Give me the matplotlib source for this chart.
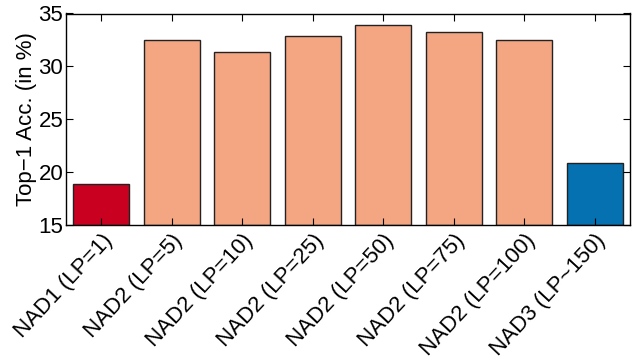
import matplotlib
matplotlib.use("Agg")
import matplotlib.pyplot as plt

categories = ["NAD1 (LP=1)", "NAD2 (LP=5)", "NAD2 (LP=10)", "NAD2 (LP=25)",
              "NAD2 (LP=50)", "NAD2 (LP=75)", "NAD2 (LP=100)", "NAD3 (LP~150)"]
values = [18.85, 32.45, 31.33, 32.9, 33.95, 33.22, 32.45, 20.9]
colors = ["#CA0020", "#F4A582", "#F4A582", "#F4A582", "#F4A582", "#F4A582", "#F4A582", "#0571B0"]

plt.rcParams['font.family'] = ['Liberation Sans', 'DejaVu Sans']
fs = 16
fig = plt.figure(figsize=(6.34, 3.6), dpi=100)
ax = fig.add_axes([66/634, 1-225/360, (630-66)/634, (225-13.5)/360])

x = list(range(len(categories)))
ax.bar(x, [v - 15 for v in values], bottom=15, width=0.8, color=colors,
       edgecolor="#222222", linewidth=1.0)
ax.set_xlim(-0.5, len(categories) - 0.5)
ax.set_ylim(15, 35)
ax.set_yticks([15, 20, 25, 30, 35])
ax.set_xticks(x)
ax.set_xticklabels(categories, rotation=47, ha='right', rotation_mode='anchor', fontsize=fs)
ax.tick_params(axis='both', direction='in', top=True, right=True, length=5, width=0.8, labelsize=fs)
ax.tick_params(axis='x', pad=4)
ax.tick_params(axis='y', pad=2)
ax.set_ylabel("Top\u22121 Acc. (in %)", fontsize=fs, labelpad=1)
for s in ax.spines.values():
    s.set_linewidth(1.0)
fig.savefig("out.png", dpi=100)
